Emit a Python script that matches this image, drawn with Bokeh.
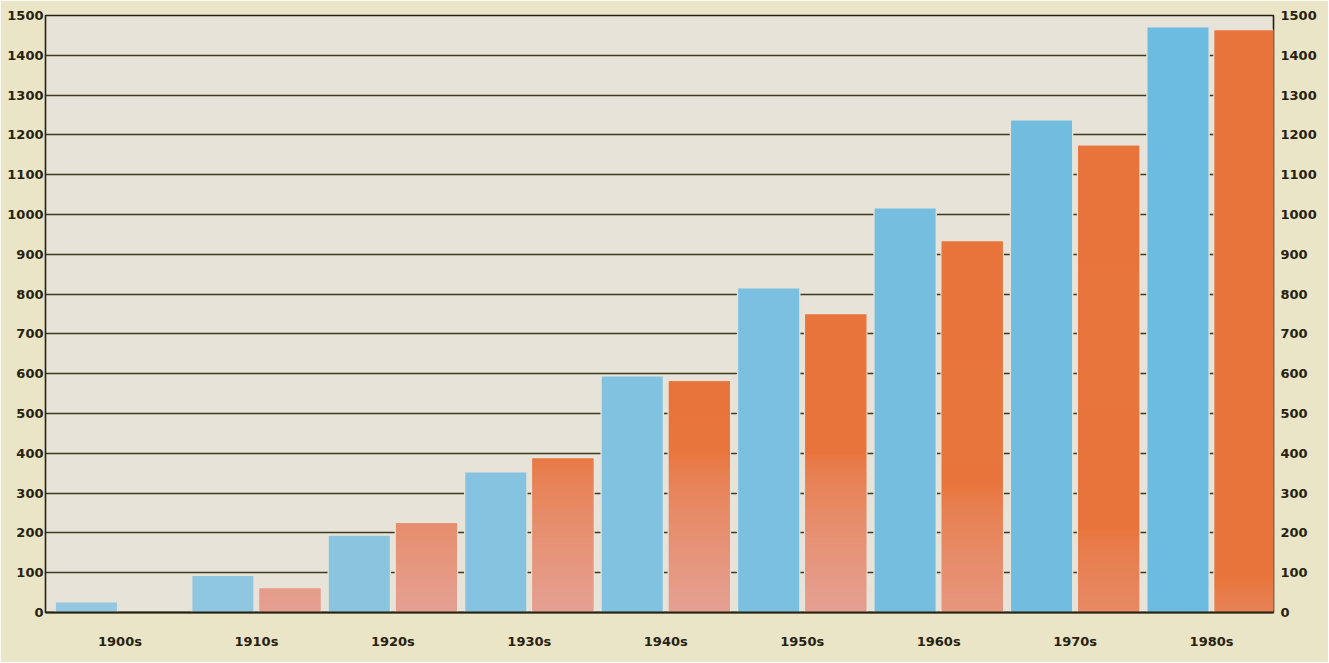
import numpy as np
from bokeh.plotting import figure
from bokeh.models import Range1d, LinearAxis, SingleIntervalTicker, FixedTicker, ColumnDataSource
from bokeh.embed import file_html
from bokeh.resources import INLINE

# ---- data ----
decades = ["1900s", "1910s", "1920s", "1930s", "1940s", "1950s", "1960s", "1970s", "1980s"]
blue_values = [25, 92, 193, 352, 593, 814, 1015, 1236, 1470]
orange_values = [0, 60, 224, 387, 581, 749, 932, 1173, 1462]

# ---- styles ----
PLOT_BG = "#e7e3d8"
PAGE_BG = "#ebe5c8"
INK = "#26220f"
GRID = "#3f3a1c"
BLUE_LEFT = np.array([148, 200, 224])
BLUE_RIGHT = np.array([108, 187, 224])
ORANGE = np.array([232, 117, 60])
PINK = np.array([229, 160, 146])
FONT = "DejaVu Sans"

BAR_W = 0.447
HALO_W = 0.466
OFF = 0.246

idx = list(range(len(decades)))

p = figure(x_range=Range1d(-0.546, 8.454),
           y_range=Range1d(0, 1500),
           width=1328, height=662,
           output_backend="svg", toolbar_location=None,
           min_border_left=45, min_border_right=55,
           min_border_top=15, min_border_bottom=50)

p.background_fill_color = PLOT_BG
p.border_fill_color = PAGE_BG
p.outline_line_color = INK
p.outline_line_width = 1.6
p.xgrid.visible = False
p.ygrid.ticker = SingleIntervalTicker(interval=100)
p.ygrid.grid_line_color = GRID
p.ygrid.grid_line_width = 1.3

def style_axis(ax, standoff):
    ax.major_tick_line_color = None
    ax.minor_tick_line_color = None
    ax.major_tick_out = 0
    ax.major_tick_in = 0
    ax.minor_tick_out = 0
    ax.axis_line_color = None
    ax.major_label_text_font = FONT
    ax.major_label_text_font_style = "bold"
    ax.major_label_text_font_size = "13px"
    ax.major_label_text_color = INK
    ax.major_label_standoff = standoff

p.yaxis.ticker = SingleIntervalTicker(interval=100)
style_axis(p.yaxis[0], 2)
right = LinearAxis(ticker=SingleIntervalTicker(interval=100))
p.add_layout(right, "right")
style_axis(right, 7)

p.xaxis.ticker = FixedTicker(ticks=idx)
p.xaxis.major_label_overrides = {i: d for i, d in zip(idx, decades)}
style_axis(p.xaxis[0], 21)
p.xaxis.axis_line_color = INK
p.xaxis.axis_line_width = 2.2

bx = [i - OFF for i in idx]
ox = [i + OFF for i in idx]

# narrow halos (small gap between grid lines and bars)
hb = [(x, v + 3) for x, v in zip(bx, blue_values) if v > 0]
ho = [(x, v + 3) for x, v in zip(ox, orange_values) if v > 0]
p.vbar(x=[a for a, _ in hb], top=[b for _, b in hb], bottom=0, width=HALO_W,
       fill_color=PLOT_BG, line_color=None)
p.vbar(x=[a for a, _ in ho], top=[b for _, b in ho], bottom=0, width=HALO_W,
       fill_color=PLOT_BG, line_color=None)

# blue bars (printed tone deepens slightly from left to right)
n = len(decades)
blue_colors = []
for i in idx:
    t = i / (n - 1)
    c = np.round(BLUE_LEFT * (1 - t) + BLUE_RIGHT * t).astype(int)
    blue_colors.append("#%02x%02x%02x" % tuple(c))
bsrc = ColumnDataSource(dict(x=bx, top=blue_values, color=blue_colors))
p.vbar(x="x", top="top", bottom=0, width=BAR_W, source=bsrc,
       fill_color="color", line_color=None)

# orange bars: gradient slices (pink toward the bottom), drawn bottom-up with overlap
PX_PER_UNIT = 597.0 / 1500.0
sx, sb, st, sc = [], [], [], []
for x, v in zip(ox, orange_values):
    if v <= 0:
        continue
    N = max(3, int(round(v * PX_PER_UNIT / 2.0)))
    H = 400.0 if v <= 750 else max(60.0, 400.0 - (v - 750) * 0.45)
    S = float(np.clip((1550 - v) / 800.0, 0.3, 1.0))
    ext = 2.5 / PX_PER_UNIT
    for i in range(N):
        b0 = v * i / N
        t0 = min(v, v * (i + 1) / N + ext)
        h = v * (i + 0.5) / N
        w = S * np.clip(1 - h / H, 0, 1) ** 0.7
        c = np.round(ORANGE * (1 - w) + PINK * w).astype(int)
        sx.append(x); sb.append(b0); st.append(t0)
        sc.append("#%02x%02x%02x" % tuple(c))
osrc = ColumnDataSource(dict(x=sx, bottom=sb, top=st, color=sc))
p.vbar(x="x", top="top", bottom="bottom", width=BAR_W,
       source=osrc, fill_color="color", line_color=None)

open("out.html", "w").write(file_html(p, INLINE))
